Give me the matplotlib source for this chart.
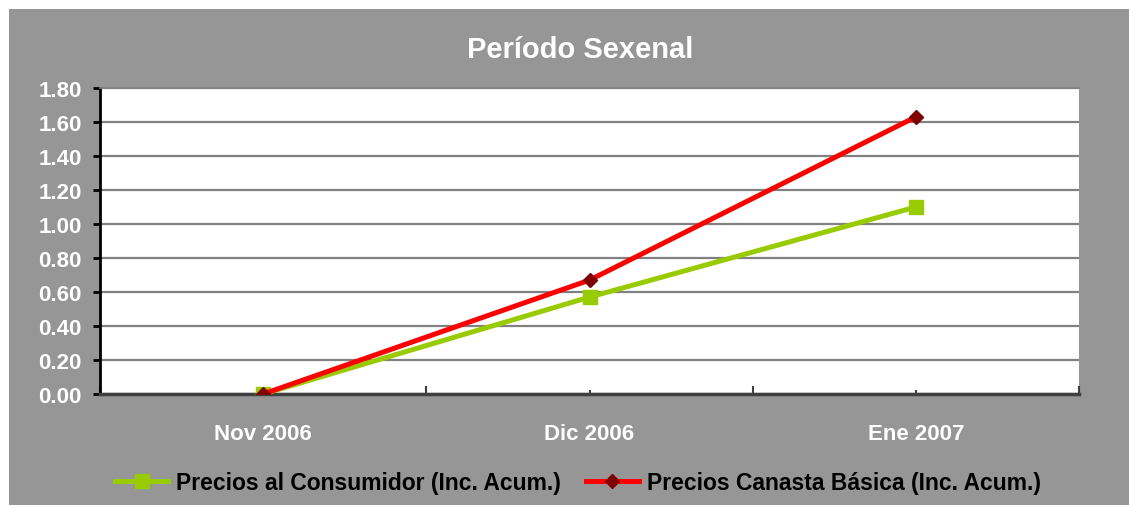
import matplotlib
matplotlib.use("Agg")
import matplotlib.pyplot as plt
from matplotlib.patches import Rectangle
from matplotlib.ticker import FixedLocator, MultipleLocator, FuncFormatter, NullFormatter, FixedFormatter

categories = ["Nov 2006", "Dic 2006", "Ene 2007"]
consumidor = [0.00, 0.57, 1.10]
canasta = [0.00, 0.67, 1.63]
series_names = ["Precios al Consumidor (Inc. Acum.)", "Precios Canasta Básica (Inc. Acum.)"]
title = "Período Sexenal"

plt.rcParams['font.family'] = ['Liberation Sans', 'DejaVu Sans']
plt.rcParams['font.weight'] = 'bold'

W, H = 1129, 506
fig = plt.figure(figsize=(W / 100, H / 100), dpi=100)
fig.patch.set_facecolor('white')
bg = '#969696'
fig.patches.append(Rectangle((9 / W, 0), 1 - 9 / W, 1 - 10 / H, transform=fig.transFigure,
                             facecolor=bg, edgecolor='none', zorder=-10))

ax = fig.add_axes([100 / W, 1 - 395 / H, (1079 - 100) / W, (395 - 89) / H])
ax.set_facecolor('white')
x = list(range(len(categories)))

ax.plot(x, consumidor, color='#99CC00', lw=3.6, marker='s', markersize=9.5,
        markerfacecolor='#99CC00', markeredgecolor='#99CC00', label=series_names[0], zorder=3)
ax.plot(x, canasta, color='#FF0000', lw=3.6, marker='D', markersize=7.5,
        markerfacecolor='#800000', markeredgecolor='#800000', label=series_names[1], zorder=4)

ax.set_xlim(-0.5, len(categories) - 0.5)
ax.set_ylim(0, 1.8)
ax.yaxis.set_major_locator(MultipleLocator(0.2))
ax.yaxis.set_major_formatter(FuncFormatter(lambda v, p: f"{v:.2f}"))
ax.grid(axis='y', color='#808080', lw=1.6)
ax.set_axisbelow(True)

ax.xaxis.set_major_locator(FixedLocator([i - 0.5 for i in range(len(categories) + 1)]))
ax.xaxis.set_minor_locator(FixedLocator(x))
ax.xaxis.set_major_formatter(NullFormatter())
ax.xaxis.set_minor_formatter(FixedFormatter(categories))
ax.tick_params(axis='x', which='major', direction='in', length=6, width=1.5, color='#404040')
ax.tick_params(axis='x', which='minor', direction='in', length=3, width=1.5, color='#404040',
               pad=21, labelsize=16, labelcolor='white')
ax.tick_params(axis='y', direction='out', length=5, width=2, color='black',
               labelsize=16, labelcolor='white', pad=8)
for lab in ax.get_xticklabels(minor=True) + ax.get_yticklabels():
    lab.set_fontweight('bold')

ax.spines['right'].set_visible(False)
ax.spines['left'].set_color('black')
ax.spines['left'].set_linewidth(2)
ax.spines['bottom'].set_color('#404040')
ax.spines['bottom'].set_linewidth(2.5)
ax.spines['top'].set_color('#808080')
ax.spines['top'].set_linewidth(1.2)

fig.text(580 / W, 1 - 50 / H, title, ha='center', va='center', color='white',
         fontsize=21, fontweight='bold')

leg = fig.legend(loc='center', bbox_to_anchor=(578 / W, 1 - 484 / H), ncol=2, frameon=False,
                 handlelength=2.3, handletextpad=0.35, columnspacing=1.1,
                 prop={'weight': 'bold', 'size': 16.5})
for t in leg.get_texts():
    t.set_color('black')

fig.savefig('out.png', dpi=100, facecolor=fig.get_facecolor())
